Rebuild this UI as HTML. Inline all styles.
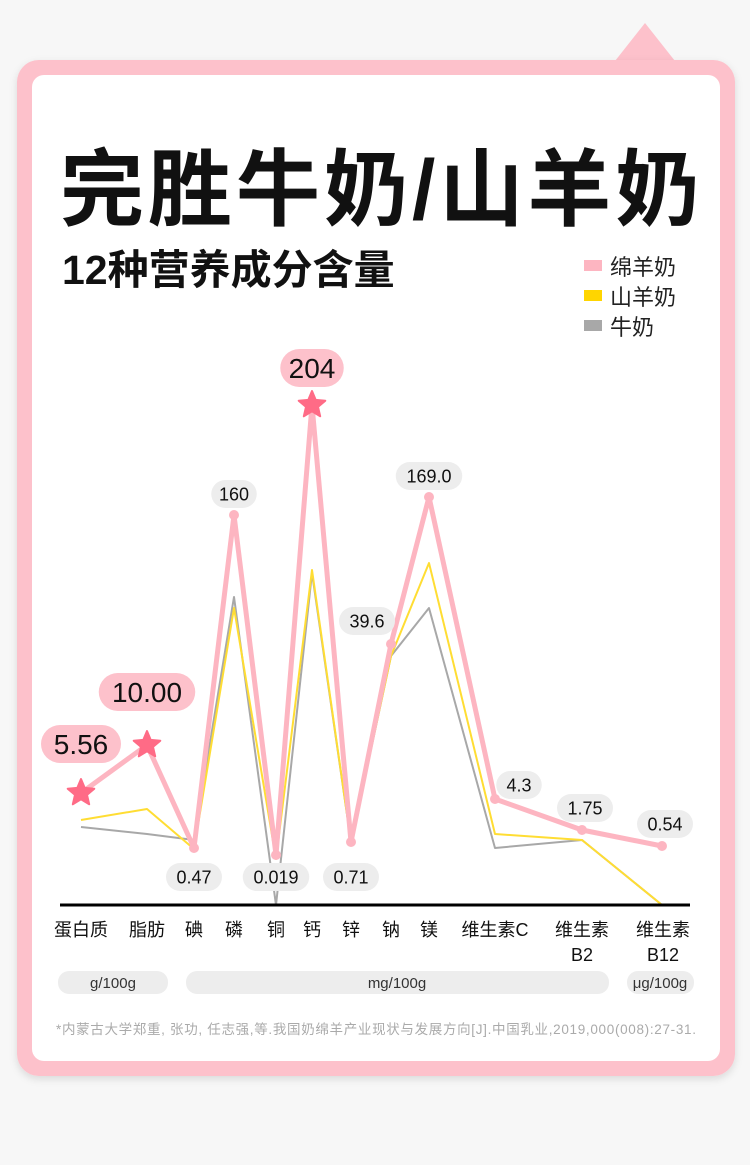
<!DOCTYPE html>
<html><head><meta charset="utf-8">
<style>
body{margin:0;background:#f7f7f7;width:750px;height:1165px;overflow:hidden;font-family:"Liberation Sans","Noto Sans CJK SC",sans-serif;}
svg{position:absolute;left:0;top:0}
</style></head>
<body>
<svg width="750" height="1165" viewBox="0 0 750 1165">
<defs><filter id="sh" x="-5%" y="-5%" width="110%" height="110%"><feDropShadow dx="0" dy="3" stdDeviation="4" flood-color="#000" flood-opacity="0.12"/></filter></defs>
<g>
<polygon points="615,61 645,23 675,61" fill="#fdc1cb"/>
<rect x="17" y="60" width="718" height="1016" rx="22" fill="#fdc1cb" filter="url(#sh)"/>
<rect x="32" y="75" width="688" height="986" rx="12" fill="#fff"/>
</g>
<text x="60" y="219" font-size="84" font-weight="bold" fill="#111" letter-spacing="4">完胜牛奶/山羊奶</text>
<text x="62" y="284" font-size="41" font-weight="bold" fill="#111">12种营养成分含量</text>
<g font-size="22" fill="#222">
<rect x="584" y="260" width="18" height="11" fill="#fdb5c1"/><text x="610" y="275">绵羊奶</text>
<rect x="584" y="290" width="18" height="11" fill="#ffd500"/><text x="610" y="305">山羊奶</text>
<rect x="584" y="320" width="18" height="11" fill="#a8a8a8"/><text x="610" y="335">牛奶</text>
</g>
<g id="chart"></g>
<g font-size="15" fill="#333" text-anchor="middle">
<rect x="58" y="971" width="110" height="23" rx="11" fill="#ededed"/><text x="113" y="988">g/100g</text>
<rect x="186" y="971" width="423" height="23" rx="11" fill="#ededed"/><text x="397" y="988">mg/100g</text>
<rect x="627" y="971" width="67" height="23" rx="11" fill="#ededed"/><text x="660" y="988">μg/100g</text>
</g>
<text x="56" y="1034" font-size="13.5" fill="#aaa" textLength="640">*内蒙古大学郑重, 张功, 任志强,等.我国奶绵羊产业现状与发展方向[J].中国乳业,2019,000(008):27-31.</text>
</svg>
<script>
const categories=["蛋白质","脂肪","碘","磷","铜","钙","锌","钠","镁","维生素C","维生素|B2","维生素|B12"];
const sheepValues=[22.4,32,11.4,78,10,100,12.6,52.2,81.6,21.2,15,11.8];
const goatValues=[17,19.2,11.2,59.4,9.2,67,12.6,49.8,68.4,14.2,13,0];
const cowValues=[15.6,14.2,13,61.6,0,66.4,12.6,49.8,59.4,11.4,13,0];
const sheepLabels=["5.56","10.00","0.47","160","0.019","204","0.71","39.6","169.0","4.3","1.75","0.54"];
const starIdx=[0,1,5];
const xPos=[81,147,194,234,276,312,351,391,429,495,582,662];
function xAt(i){return xPos[i];}
function yAt(v){return 905-v*5;}
const NS="http://www.w3.org/2000/svg";
const g=document.getElementById('chart');
function mk(t,a,p){const e=document.createElementNS(NS,t);for(const k in a)e.setAttribute(k,a[k]);(p||g).appendChild(e);return e;}
function line(vals,color,w,name){
  const e=mk('polyline',{points:vals.map((v,i)=>xAt(i)+','+yAt(v)).join(' '),fill:'none',stroke:color,'stroke-width':w,'stroke-linejoin':'round'});
  
  
}
line(cowValues,'#a8a8a8',2,'cow-milk-line');
line(goatValues,'#ffdd33',2,'goat-milk-line');
line(sheepValues,'#fdb5c1',5,'sheep-milk-line');
const ax=mk('line',{x1:60,x2:690,y1:905,y2:905,stroke:'#000','stroke-width':3});


function star(cx,cy,r){let p=[];for(let k=0;k<10;k++){const a=-Math.PI/2+k*Math.PI/5,rr=k%2?r*0.45:r;p.push((cx+rr*Math.cos(a)).toFixed(1)+','+(cy+rr*Math.sin(a)).toFixed(1));}return p.join(' ');}
sheepValues.forEach((v,i)=>{
  const x=xAt(i),y=yAt(v);
  let m;
  if(starIdx.includes(i)){m=mk('polygon',{points:star(x,y,14),fill:'#ff6b86','stroke-linejoin':'round',stroke:'#ff6b86','stroke-width':2});}
  else m=mk('circle',{cx:x,cy:y,r:5,fill:'#fdb5c1'});
  
  
  const big=starIdx.includes(i);
  const txt=sheepLabels[i];
  let lx=x,ly;
  const low=[2,4,6].includes(i);
  if(big){ly=y-50;if(i===0)ly=y-49;if(i===1)ly=y-53;if(i===5)ly=y-37;}
  else if(low){ly=877;}
  else if(i===7){lx=x-24;ly=y-23;}
  else if(i===9){lx=x+24;ly=y-14;}
  else if(i>=10){lx=x+3;ly=y-22;}
  else ly=y-21;
  const fs=big?28:18;
  const w=txt.length*(big?16.5:10.5)+14;
  const h=big?38:28;
  const r=mk('rect',{x:lx-w/2,y:ly-h/2,width:w,height:h,rx:h/2,fill:big?'#fdc1cb':'#ededed'});
  
  
  const t=mk('text',{x:lx,y:ly+fs*0.36,'font-size':fs,'text-anchor':'middle',fill:'#111'});
  t.textContent=txt;
  
  
});
categories.forEach((c,i)=>{
  const parts=c.split('|');
  parts.forEach((p,j)=>{
    const t=mk('text',{x:xAt(i)+(i===11?1:0),y:936+j*25,'font-size':18,'text-anchor':'middle',fill:'#111'});
    t.textContent=p;
    
    
  });
});
</script>
</body></html>
